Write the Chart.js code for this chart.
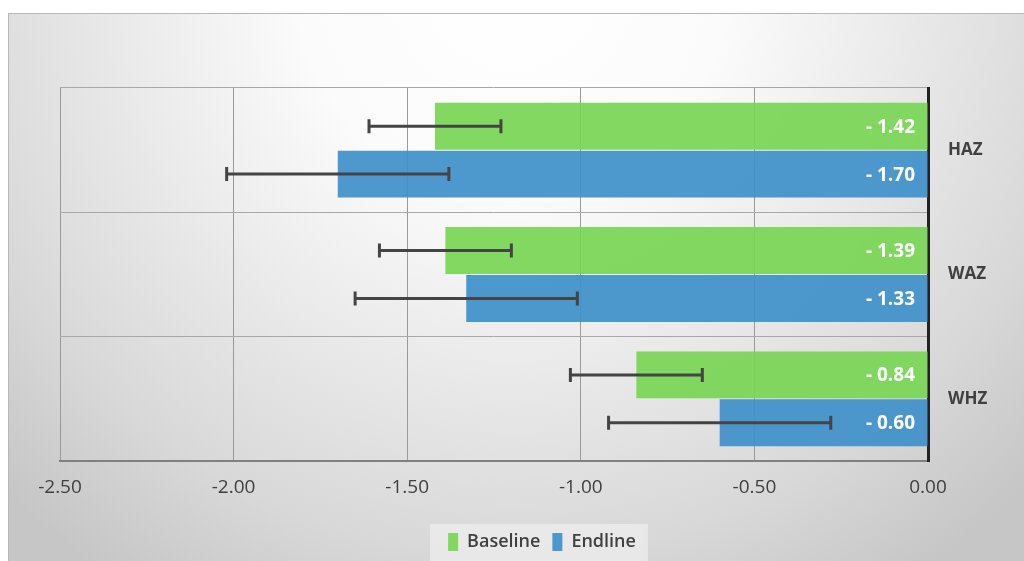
<!DOCTYPE html>
<html>
<head>
<meta charset="utf-8">
<script src="https://cdn.jsdelivr.net/npm/chart.js@4"></script>
<style>
  html, body { margin: 0; padding: 0; background: #fff; }
  #wrap { width: 1024px; height: 561px; position: relative; }
</style>
</head>
<body>
<div id="wrap"><canvas id="chart"></canvas></div>
<script>
// z-score means
var categories = ["HAZ", "WAZ", "WHZ"];
var baseline = [-1.42, -1.39, -0.84];
var endline = [-1.70, -1.33, -0.60];
// half widths of the error bars
var baselineErr = [0.19, 0.19, 0.19];
var endlineErr = [0.32, 0.32, 0.32];
var xTicks = [-2.5, -2.0, -1.5, -1.0, -0.5, 0.0];

var FONT = "'Open Sans', sans-serif";
var TEXT = '#404040';

//Background: radial grey shade and the outer frame
var backgroundPlugin = {
    id: 'background',
    beforeDraw: function(chart){
        var ctx = chart.ctx;
        ctx.save();
        ctx.fillStyle = '#ffffff';
        ctx.fillRect(0, 0, chart.width, chart.height);
        var g = ctx.createRadialGradient(512, -20, 0, 512, -20, 720);
        g.addColorStop(0, '#ffffff');
        g.addColorStop(0.3, '#fbfbfb');
        g.addColorStop(0.6, '#e6e6e6');
        g.addColorStop(0.8, '#d8d8d8');
        g.addColorStop(1, '#c6c6c6');
        ctx.fillStyle = g;
        ctx.fillRect(8, 13, chart.width - 8, chart.height - 13);
        ctx.strokeStyle = '#b8b8b8';
        ctx.lineWidth = 1;
        ctx.beginPath();
        ctx.moveTo(8.5, chart.height);
        ctx.lineTo(8.5, 13.5);
        ctx.lineTo(chart.width, 13.5);
        ctx.stroke();
        //legend box, sized around the legend items
        var lg = chart.legend;
        if(lg && lg.legendHitBoxes && lg.legendHitBoxes.length){
            var hb = lg.legendHitBoxes;
            var l = hb[0].left - 18;
            var r = hb[hb.length - 1].left + hb[hb.length - 1].width + 12;
            ctx.fillStyle = 'rgba(235,235,235,0.85)';
            ctx.fillRect(l, 524, r - l, 40);
        }
        ctx.restore();
    }
};

//Error bars and value labels
var overlayPlugin = {
    id: 'overlay',
    afterDatasetsDraw: function(chart){
        var ctx = chart.ctx;
        var xs = chart.scales.x;
        var errs = [baselineErr, endlineErr];
        ctx.save();
        chart.data.datasets.forEach(function(ds, di){
            var meta = chart.getDatasetMeta(di);
            meta.data.forEach(function(bar, i){
                var v = ds.data[i];
                var x1 = xs.getPixelForValue(v - errs[di][i]);
                var x2 = xs.getPixelForValue(v + errs[di][i]);
                var y = bar.y;
                ctx.strokeStyle = '#444444';
                ctx.lineWidth = 3;
                ctx.beginPath();
                ctx.moveTo(x1, y); ctx.lineTo(x2, y);
                ctx.moveTo(x1, y - 7); ctx.lineTo(x1, y + 7);
                ctx.moveTo(x2, y - 7); ctx.lineTo(x2, y + 7);
                ctx.stroke();

                ctx.fillStyle = '#ffffff';
                ctx.font = 'bold 19px ' + FONT;
                ctx.textAlign = 'right';
                ctx.textBaseline = 'middle';
                ctx.fillText('- ' + Math.abs(v).toFixed(2), xs.getPixelForValue(0) - 13, y + 1);
            });
        });
        ctx.restore();
    }
};

var chartData = {
    type: 'bar',
    data: {
        labels: categories,
        datasets: [{
            label: 'Baseline',
            data: baseline,
            backgroundColor: 'rgba(122, 213, 86, 0.93)',
            borderWidth: 0
        }, {
            label: 'Endline',
            data: endline,
            backgroundColor: 'rgba(64, 145, 202, 0.93)',
            borderWidth: 0
        }]
    },
    options: {
        indexAxis: 'y',
        responsive: false,
        animation: false,
        devicePixelRatio: 1,
        layout: {padding: {left: 60, top: 88, right: 0, bottom: 0}},
        datasets: {bar: {categoryPercentage: 0.77, barPercentage: 0.98}},
        scales: {
            x: {
                position: 'bottom',
                min: -2.5,
                max: 0,
                afterBuildTicks: function(scale){
                    scale.ticks = xTicks.map(function(v){ return {value: v}; });
                },
                afterFit: function(scale){ scale.height = 60; },
                ticks: {
                    color: TEXT,
                    font: {size: 19, family: FONT},
                    padding: 15,
                    callback: function(v){ return Number(v).toFixed(2); }
                },
                grid: {color: '#9a9a9a', lineWidth: 1, drawTicks: false},
                border: {color: '#808080', width: 2}
            },
            y: {
                position: 'right',
                offset: true,
                afterFit: function(scale){ scale.width = 96; },
                ticks: {
                    color: TEXT,
                    font: {size: 17, weight: 'bold', family: FONT},
                    padding: 20
                },
                grid: {offset: true, color: '#a8a8a8', lineWidth: 1, drawTicks: false},
                border: {color: '#222222', width: 3}
            }
        },
        plugins: {
            legend: {
                position: 'bottom',
                labels: {
                    color: TEXT,
                    font: {size: 18, weight: '600', family: FONT},
                    boxWidth: 10,
                    boxHeight: 18,
                    padding: 12
                }
            },
            tooltip: {enabled: false}
        }
    },
    plugins: [backgroundPlugin, overlayPlugin]
};

var ctx = document.getElementById("chart");
ctx.width = 1024;
ctx.height = 561;
var chart = new Chart(ctx, chartData);
</script>
</body>
</html>
